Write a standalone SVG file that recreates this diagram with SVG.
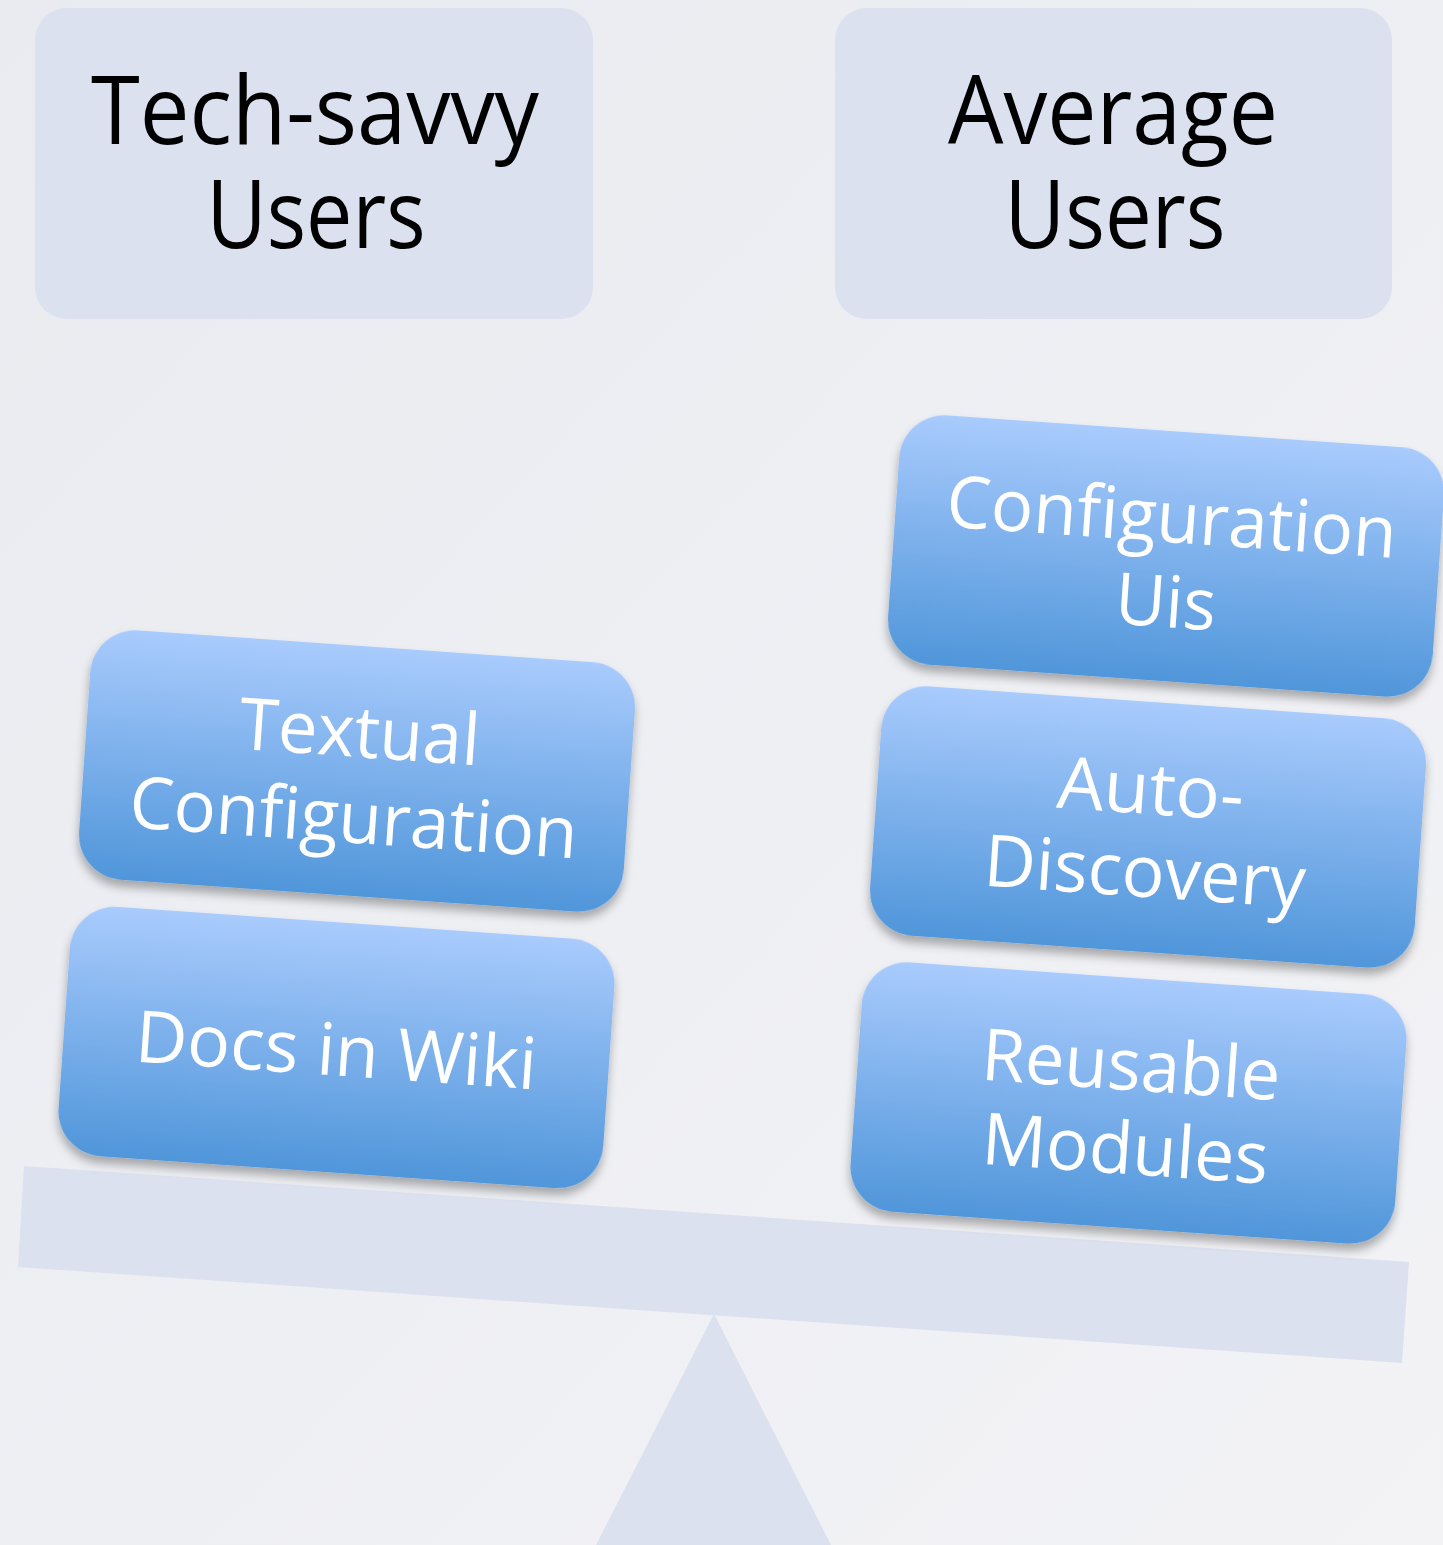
<svg xmlns="http://www.w3.org/2000/svg" width="1443" height="1545" viewBox="0 0 1443 1545">
<style>
.bg{fill:url(#bgGrad)}
.grey{fill:#dbe1ee}
.head{font-family:"Open Sans","Liberation Sans",sans-serif;font-size:95px;fill:#000;text-anchor:middle}
.card{fill:url(#blueGrad);filter:url(#shadow)}
.lbl{font-family:"Open Sans","Liberation Sans",sans-serif;font-size:72px;fill:#fff;text-anchor:middle}
</style>
<defs>
<linearGradient id="bgGrad" x1="0" y1="0" x2="1" y2="1">
<stop offset="0" stop-color="#e9ebf0"/>
<stop offset="1" stop-color="#f3f3f6"/>
</linearGradient>
<linearGradient id="blueGrad" x1="0" y1="0" x2="0" y2="1">
<stop offset="0" stop-color="#a9cbfd"/>
<stop offset="1" stop-color="#5096da"/>
</linearGradient>
<filter id="shadow" x="-10%" y="-10%" width="120%" height="130%">
<feDropShadow dx="0" dy="7" stdDeviation="5" flood-color="#000" flood-opacity="0.3"/>
</filter>
</defs>
<rect class="bg" x="0" y="0" width="1443" height="1545"/>

<g id="fulcrum">
<polygon class="grey" points="714,1314 831,1545 596,1545"/>
</g>
<g id="beam">
<polygon class="grey" points="24,1166 1409,1262 1402,1363 18,1267"/>
</g>

<g id="tech-savvy-users">
<rect class="grey" x="35" y="8" width="558" height="311" rx="32"/>
<text class="head" x="315" y="144" textLength="448" lengthAdjust="spacingAndGlyphs">Tech-savvy</text>
<text class="head" x="316" y="248" textLength="219" lengthAdjust="spacingAndGlyphs">Users</text>
</g>
<g id="average-users">
<rect class="grey" x="835" y="8" width="557" height="311" rx="32"/>
<text class="head" x="1113" y="144" textLength="330" lengthAdjust="spacingAndGlyphs">Average</text>
<text class="head" x="1115" y="248" textLength="221" lengthAdjust="spacingAndGlyphs">Users</text>
</g>

<g id="connectors"></g>

<g id="docs-in-wiki" transform="translate(336.5,1047.5) rotate(4)">
<rect class="card" x="-273" y="-125" width="546" height="250" rx="45"/>
<text class="lbl" x="0" y="28" textLength="402" lengthAdjust="spacingAndGlyphs">Docs in Wiki</text>
</g>
<g id="textual-configuration" transform="translate(357,771) rotate(4)">
<rect class="card" x="-273" y="-125" width="546" height="250" rx="45"/>
<text class="lbl" x="0" y="-14" textLength="241" lengthAdjust="spacingAndGlyphs">Textual</text>
<text class="lbl" x="0" y="72" textLength="449" lengthAdjust="spacingAndGlyphs">Configuration</text>
</g>

<g id="reusable-modules" transform="translate(1128.5,1103) rotate(4)">
<rect class="card" x="-273" y="-125" width="546" height="250" rx="45"/>
<text class="lbl" x="0" y="-13" textLength="299" lengthAdjust="spacingAndGlyphs">Reusable</text>
<text class="lbl" x="0" y="71" textLength="287" lengthAdjust="spacingAndGlyphs">Modules</text>
</g>
<g id="auto-discovery" transform="translate(1148,827) rotate(4)">
<rect class="card" x="-273" y="-125" width="546" height="250" rx="45"/>
<text class="lbl" x="0" y="-13" textLength="187" lengthAdjust="spacingAndGlyphs">Auto-</text>
<text class="lbl" x="0" y="70" textLength="322" lengthAdjust="spacingAndGlyphs">Discovery</text>
</g>
<g id="configuration-uis" transform="translate(1166,556) rotate(4)">
<rect class="card" x="-273" y="-125" width="546" height="250" rx="45"/>
<text class="lbl" x="3" y="-14" textLength="451" lengthAdjust="spacingAndGlyphs">Configuration</text>
<text class="lbl" x="3" y="71" textLength="101" lengthAdjust="spacingAndGlyphs">Uis</text>
</g>
</svg>
